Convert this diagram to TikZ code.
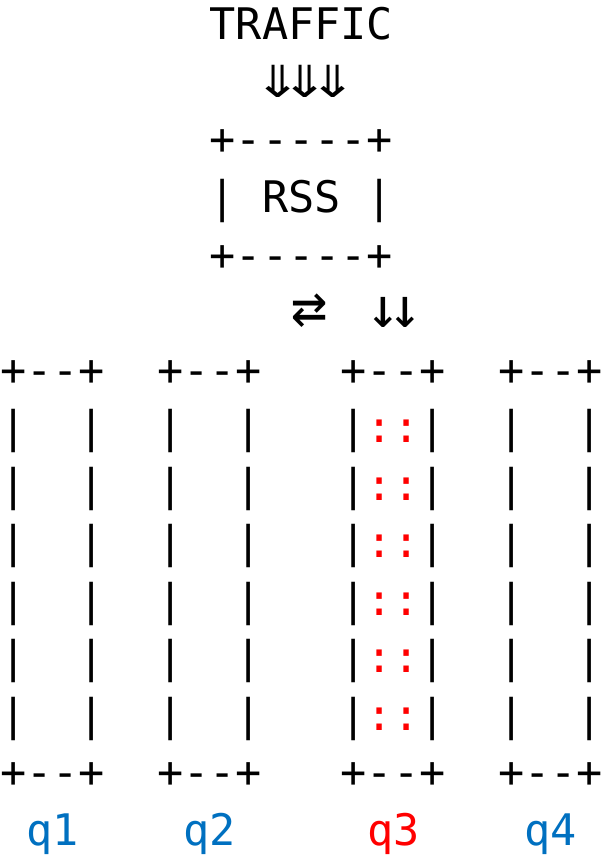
\documentclass[tikz,border=0pt]{standalone}
\usepackage{fontspec}
\setmonofont{DejaVu Sans Mono}
\newcommand{\asciifont}{\ttfamily\fontsize{43.5}{57.5}\selectfont}
\newcommand{\arrowfont}{\ttfamily\fontsize{60}{60}\selectfont}
\definecolor{qblue}{RGB}{0,112,192}
\definecolor{qred}{RGB}{255,0,0}
\def\cw{26.2}
\def\lh{57.5}
\def\firstrow{40}

\begin{document}
\begin{tikzpicture}[x=1pt,y=-1pt]
\useasboundingbox (0,0) rectangle (603,858);
		\begin{scope}[every node/.style={anchor=base west,inner sep=0pt,font=\asciifont}]
			\node (traffic) at (8*\cw,\firstrow) {TRAFFIC};
			\node (rsstop) at (8*\cw,\firstrow+2*\lh) {+-----+};
			\node (rss) at (8*\cw,\firstrow+3*\lh) {|\ RSS\ |};
			\node (rssbot) at (8*\cw,\firstrow+4*\lh) {+-----+};

% the four queues, q3 is the one being filled
\foreach \c/\q/\col/\slot in {0/q1/qblue/{\ \ },6/q2/qblue/{\ \ },13/q3/qred/{\textcolor{qred}{::}},19/q4/qblue/{\ \ }}{
	\node (\q-top) at (\c*\cw,\firstrow+6*\lh) {+--+};
	\foreach \r in {1,...,6}
		\node (\q-\r) at (\c*\cw,\firstrow+6*\lh+\r*\lh) {|\slot|};
	\node (\q-bot) at (\c*\cw,\firstrow+13*\lh) {+--+};
	\node [text=\col] (\q-name) at (\c*\cw+\cw,\firstrow+14*\lh) {\q};
}
		\end{scope}

		\begin{scope}[every node/.style={anchor=base,inner sep=0pt,font=\arrowfont}]
\foreach \x [count=\k] in {278,305.5,333}
	\node (intake-\k) at (\x,\firstrow+\lh) {\scalebox{1.25}[1]{⇓}};
			\node (swap) at (310,\firstrow+5*\lh) {⇄};
			\node [font=\ttfamily\fontsize{56}{56}\selectfont] (steer-1) at (383,\firstrow+5*\lh) {↓};
			\node [font=\ttfamily\fontsize{56}{56}\selectfont] (steer-2) at (405,\firstrow+5*\lh) {↓};
		\end{scope}
	\end{tikzpicture}
\end{document}
